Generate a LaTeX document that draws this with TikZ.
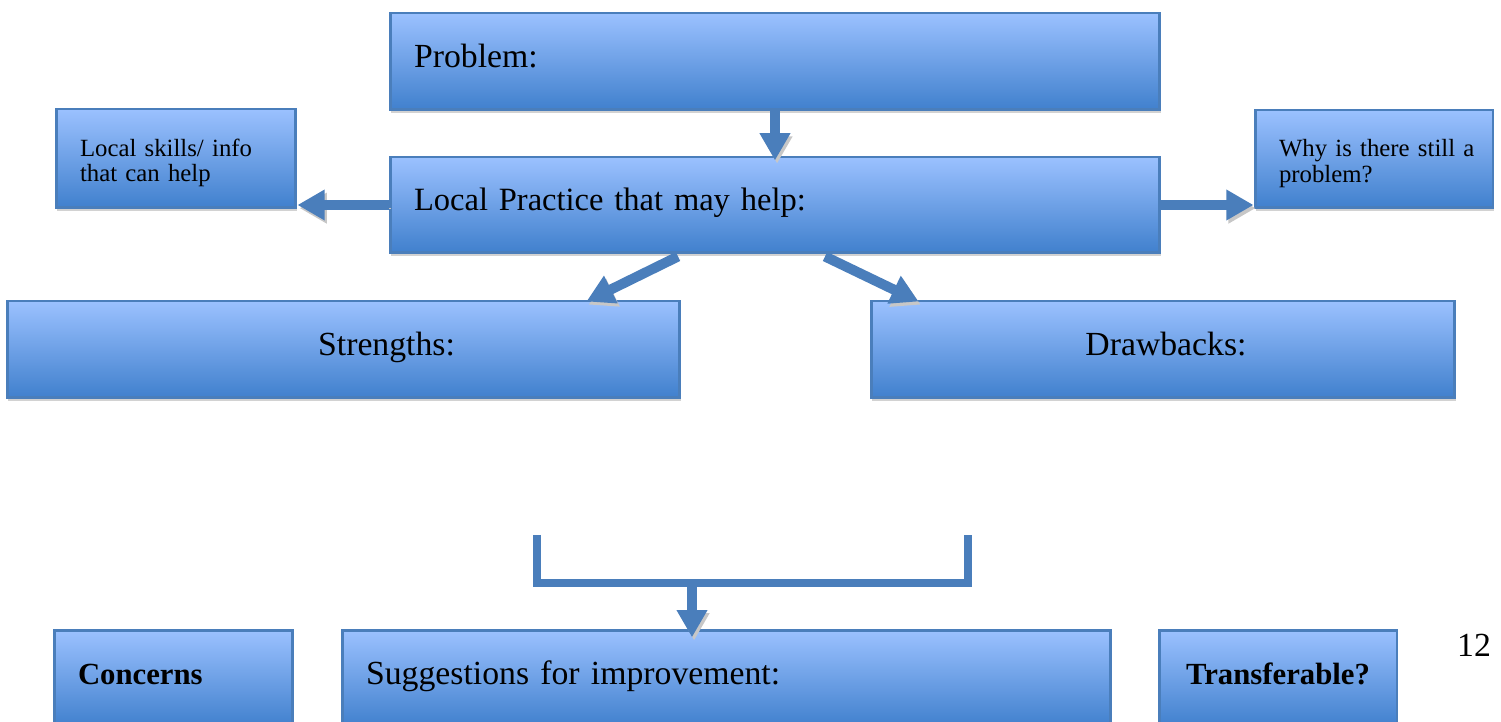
\documentclass[tikz,border=0pt]{standalone}
\usepackage{fontspec}
\setmainfont[WordSpace=0.8]{Liberation Serif}
\usetikzlibrary{arrows.meta,shadows,calc}
\definecolor{bord}{RGB}{74,126,187}
\definecolor{boxtop}{RGB}{155,193,255}
\definecolor{boxbot}{RGB}{64,128,205}
\begin{document}
\begin{tikzpicture}[x=0.02cm,y=-0.02cm,
  box/.style={draw=bord, line width=1.7pt, top color=boxtop, bottom color=boxbot,
    drop shadow={shadow xshift=0.6pt, shadow yshift=-1.8pt, fill=black!35, opacity=0.5},
    inner xsep=0pt, inner ysep=0pt, font=\fontsize{19.2pt}{23pt}\selectfont},
  oneline/.style={text height=0.66em, text depth=0pt},
  small/.style={font=\fontsize{14.1pt}{14.5pt}\selectfont, text height=15.3pt, text depth=17.6pt},
  boldtxt/.style={font=\fontsize{17.5pt}{21pt}\selectfont\bfseries},
  arr/.style={draw=bord, line width=5.7pt, -{Triangle[width=16.5pt,length=15.5pt]},
    preaction={draw=black!22, transform canvas={shift={(1.2pt,-1.8pt)}}}},
  brk/.style={draw=bord, line width=4.6pt,
    preaction={draw=black!22, transform canvas={shift={(1.2pt,-1.8pt)}}}}
]
\useasboundingbox (0,0) rectangle (1501,722);

\node[box, oneline, minimum width=15.4cm, minimum height=1.94cm, text width=14.44cm, align=left]
  (prob) at (775,61.5) {Problem:};
\node[box, font=\fontsize{18.5pt}{23pt}\selectfont, oneline, minimum width=15.4cm, minimum height=1.92cm, text width=14.44cm, align=left]
  (lp) at (775,205) {Local Practice that may help:};
\node[box, small, minimum width=4.8cm, minimum height=1.98cm, text width=3.84cm, align=left]
  (sk) at (176,158.5) {\mbox{Local skills/ info}\\that can help};
\node[box, small, minimum width=4.76cm, minimum height=1.96cm, text width=3.8cm, align=left]
  (why) at (1374,159) {\mbox{Why is there still a}\\problem?};
\node[box, oneline, minimum width=13.46cm, minimum height=1.94cm, text width=12.5cm, align=center]
  (st) at (343.5,349.5) {\hspace*{49pt}Strengths:};
\node[box, oneline, minimum width=11.68cm, minimum height=1.94cm, text width=10.7cm, align=center]
  (dr) at (1163,349.5) {\hspace*{3.4pt}Drawbacks:};
\node[box, boldtxt, oneline, minimum width=4.78cm, minimum height=1.94cm, text width=3.82cm, align=left]
  (con) at (173.5,678.5) {Concerns};
\node[box, oneline, minimum width=15.38cm, minimum height=1.94cm, text width=14.42cm, align=left]
  (sug) at (726.5,678.5) {Suggestions for improvement:};
\node[box, boldtxt, oneline, minimum width=4.76cm, minimum height=1.94cm, text width=3.8cm, align=center]
  (tr) at (1278,678.5) {Transferable?};
\node[font=\fontsize{19.2pt}{23pt}\selectfont, text height=0.66em, text depth=0pt, inner sep=0pt]
  (pg) at (1474,651) {12};

% arrows
\draw[arr, shorten >=-2.8pt] (prob.south) -- (lp.north);
\draw[arr] (lp.west) -- (lp.west -| sk.east);
\draw[arr] (lp.east) -- (lp.east -| why.west);
\draw[arr] ($(lp.south)+(-97,2)$) -- ($(st.north east)+(-95,2)$);
\draw[arr] ($(lp.south)+(50,2)$) -- ($(dr.north west)+(49,2)$);

% bracket
\coordinate (bl) at (537,535);
\coordinate (br) at (968,535);
\coordinate (bm) at (692,583);
\draw[brk] (bl) |- (bm) -| (br);
\draw[arr, shorten >=-5pt] (bm) -- (bm |- sug.north);
\end{tikzpicture}
\end{document}
